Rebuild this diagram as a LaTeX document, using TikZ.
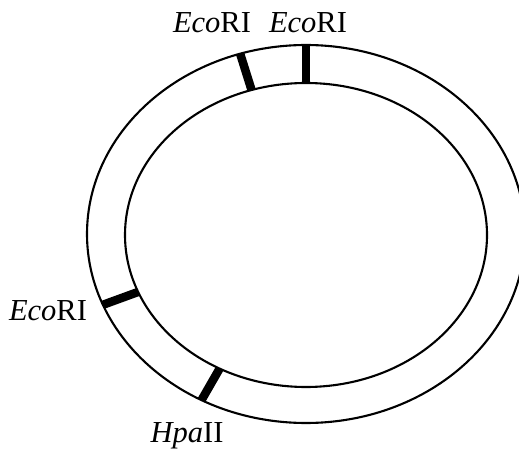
\documentclass[tikz,border=0pt]{standalone}
\usepackage{fontspec}
\setmainfont{Liberation Serif}
\begin{document}
\begin{tikzpicture}[x=1pt,y=1pt,
  ring/.style={line width=2.1pt},
  site/.style={line width=8.5pt},
  lbl/.style={font=\fontsize{30.5}{32}\selectfont, anchor=base, inner sep=0pt}]
\useasboundingbox (0,0) rectangle (519,450);
\clip (0,0) rectangle (519,450);
\coordinate (oc) at (306,216);
\coordinate (ic) at (306,215);
\draw[ring] (oc) ellipse [x radius=219, y radius=189];
\draw[ring] (ic) ellipse [x radius=181, y radius=152];
% restriction sites
\path (oc) ++(90:219 and 189) coordinate (o1);
\path (ic) ++(90:181 and 152) coordinate (i1);
\path (oc) ++(107.5:219 and 189) coordinate (o2);
\path (ic) ++(107.5:181 and 152) coordinate (i2);
\path (oc) ++(202:219 and 189) coordinate (o3);
\path (ic) ++(202:181 and 152) coordinate (i3);
\path (oc) ++(241.5:219 and 189) coordinate (o4);
\path (ic) ++(241.5:181 and 152) coordinate (i4);
\draw[site] (o1) -- (i1);
\draw[site] (o2) -- (i2);
\draw[site] (o3) -- (i3);
\draw[site] (o4) -- (i4);
% labels
\node[lbl] (e1) at (212,417) {\textit{Eco}RI};
\node[lbl] (e2) at (308,417) {\textit{Eco}RI};
\node[lbl] (e3) at (48,129) {\textit{Eco}RI};
\node[lbl] (h1) at (187,8) {\textit{Hpa}II};
\end{tikzpicture}
\end{document}
